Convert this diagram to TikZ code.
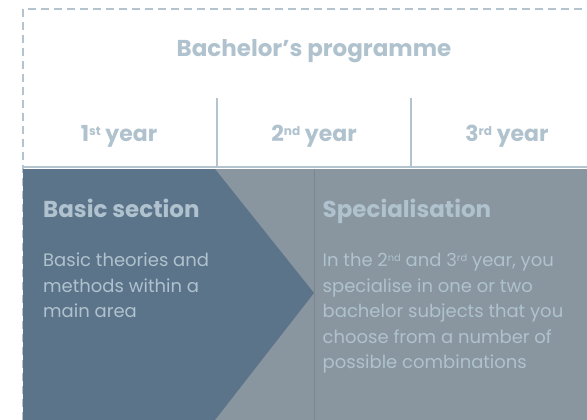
\documentclass[tikz,border=0pt]{standalone}
\usepackage{fontspec}
\setmainfont{Poppins}
\usetikzlibrary{positioning}

\definecolor{aulight}{HTML}{AFC2CE}
\definecolor{audash}{HTML}{B4C4CE}
\definecolor{audark}{HTML}{5C748A}
\definecolor{augrey}{HTML}{8996A0}

% small raised ordinal ending
\newcommand{\ord}[1]{\raisebox{0.3em}{\scalebox{0.55}{#1}}}

\begin{document}
\begin{tikzpicture}[
  x=1pt, y=-1pt,
  title/.style={text=aulight, font=\fontsize{23}{26}\selectfont\bfseries, anchor=base, inner sep=0pt},
  year/.style={text=aulight, font=\fontsize{22}{24}\selectfont\bfseries, anchor=base, inner sep=0pt},
  head/.style={text=aulight, font=\fontsize{23}{26}\selectfont\bfseries, anchor=base west, inner sep=0pt},
  body/.style={text=aulight, font=\fontsize{18}{25.5}\selectfont, anchor=north west, align=left, inner sep=0pt},
  sep/.style={draw=audash, line width=2pt}
]
\useasboundingbox (0,0) rectangle (587,420);

% Dashed frame round the programme
\draw[audash, line width=2pt, dash pattern=on 8pt off 5pt] (23,420) -- (23,9) -- (587,9);

% Grey background and basic section chevron
\fill[augrey] (23,169) rectangle (587,420);
\draw[black!10!augrey, line width=0.6pt] (314,169) -- (314,420);
\fill[audark] (23,169) -- (215,169) -- (314,293) -- (215,420) -- (23,420) -- cycle;
\draw[sep] (23,167) -- (587,167);

% Year columns
\coordinate (sepA) at (217,98);
\coordinate (sepB) at (411,98);
\draw[sep, line width=1.5pt] (sepA) -- (217,167);
\draw[sep, line width=1.5pt] (sepB) -- (411,167);

\node[title] (prog) at (314,57) {Bachelor’s programme};
\node[year] (year1) at (119,142) {1\ord{st} year};
\node[year] (year2) at (314,142) {2\ord{nd} year};
\node[year] (year3) at (507,142) {3\ord{rd} year};

% Sections
\node[head] (basic) at (43,217) {Basic section};
\node[body] (basictxt) at (43,253) {Basic theories and\\methods within a\\main area};
\node[head] (spec) at (322.5,217) {Specialisation};
\node[body] (spectxt) at (322.5,253) {In the 2\ord{nd} and 3\ord{rd} year, you\\specialise in one or two\\bachelor subjects that you\\choose from a number of\\possible combinations};

\end{tikzpicture}
\end{document}
